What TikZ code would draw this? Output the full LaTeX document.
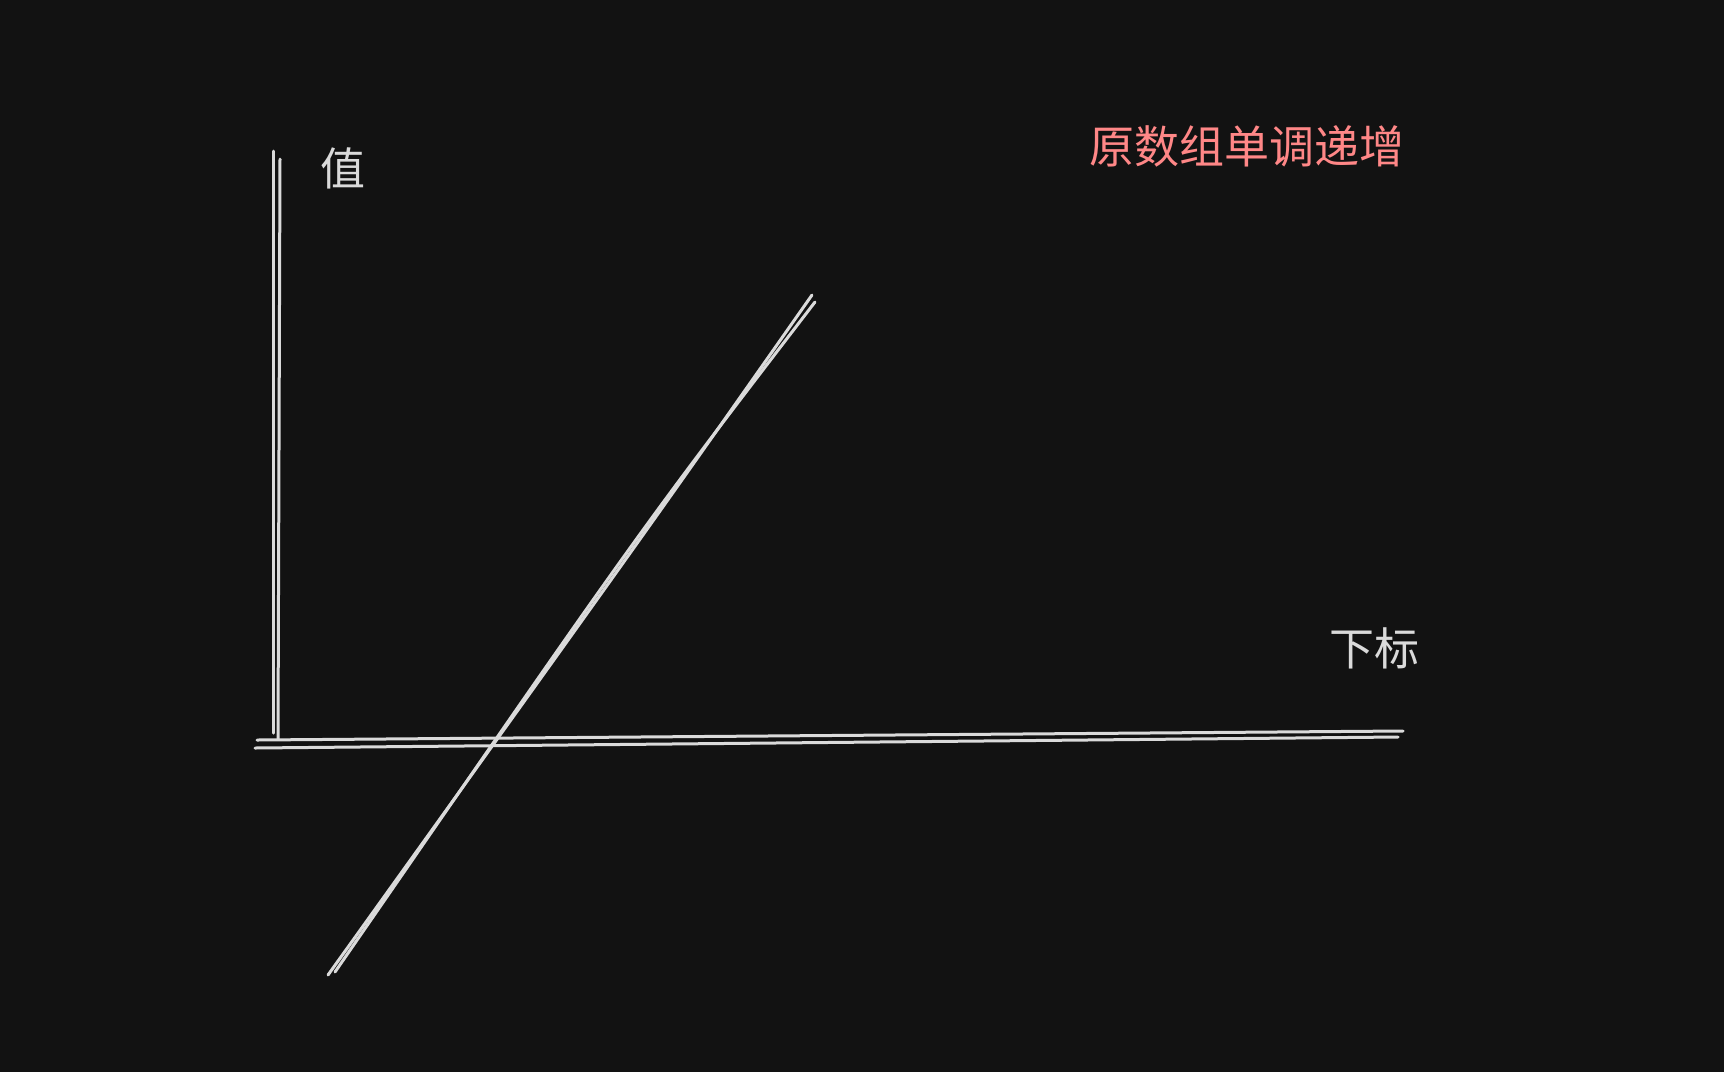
\documentclass[tikz,border=0pt]{standalone}
\usepackage{fontspec}
\newfontfamily\cjk{Noto Sans CJK SC}
\definecolor{bgc}{HTML}{121212}
\definecolor{inkc}{RGB}{218,218,218}
\definecolor{redc}{HTML}{FF8787}
\tikzset{
  sketch/.style={draw=inkc, line width=3pt, line cap=round},
  lbl/.style={inner sep=0pt, text=inkc, font=\cjk\fontsize{45}{54}\selectfont},
  ttl/.style={inner sep=0pt, text=redc, font=\cjk\fontsize{45}{54}\selectfont}
}
\begin{document}
\begin{tikzpicture}[x=1pt,y=-1pt]
\fill[bgc] (0,0) rectangle (1724,1072);
\useasboundingbox (0,0) rectangle (1724,1072);
% vertical axis
\coordinate (va1) at (273,151);
\coordinate (va2) at (273,733);
\coordinate (vb1) at (280,159);
\coordinate (vb2) at (278,739);
\draw[sketch] (va1) -- (va2);
\draw[sketch] (vb1) -- (vb2);
% horizontal axis
\coordinate (ha1) at (257,740);
\coordinate (ha2) at (1403,731);
\coordinate (hb1) at (255,748);
\coordinate (hb2) at (1398,737);
\draw[sketch] (ha1) -- (ha2);
\draw[sketch] (hb1) -- (hb2);
% diagonal line
\coordinate (da1) at (812,295);
\coordinate (da2) at (328,975);
\coordinate (db1) at (815,302);
\coordinate (db2) at (335,972);
\draw[sketch] (da1) .. controls (640,540) .. (da2);
\draw[sketch] (db1) .. controls (640,530) .. (db2);
% labels
\node[lbl] (val) at (343,168) {值};
\node[lbl] (idx) at (1374,648) {下标};
\node[ttl] (title) at (1247,146) {原数组单调递增};
\end{tikzpicture}
\end{document}
